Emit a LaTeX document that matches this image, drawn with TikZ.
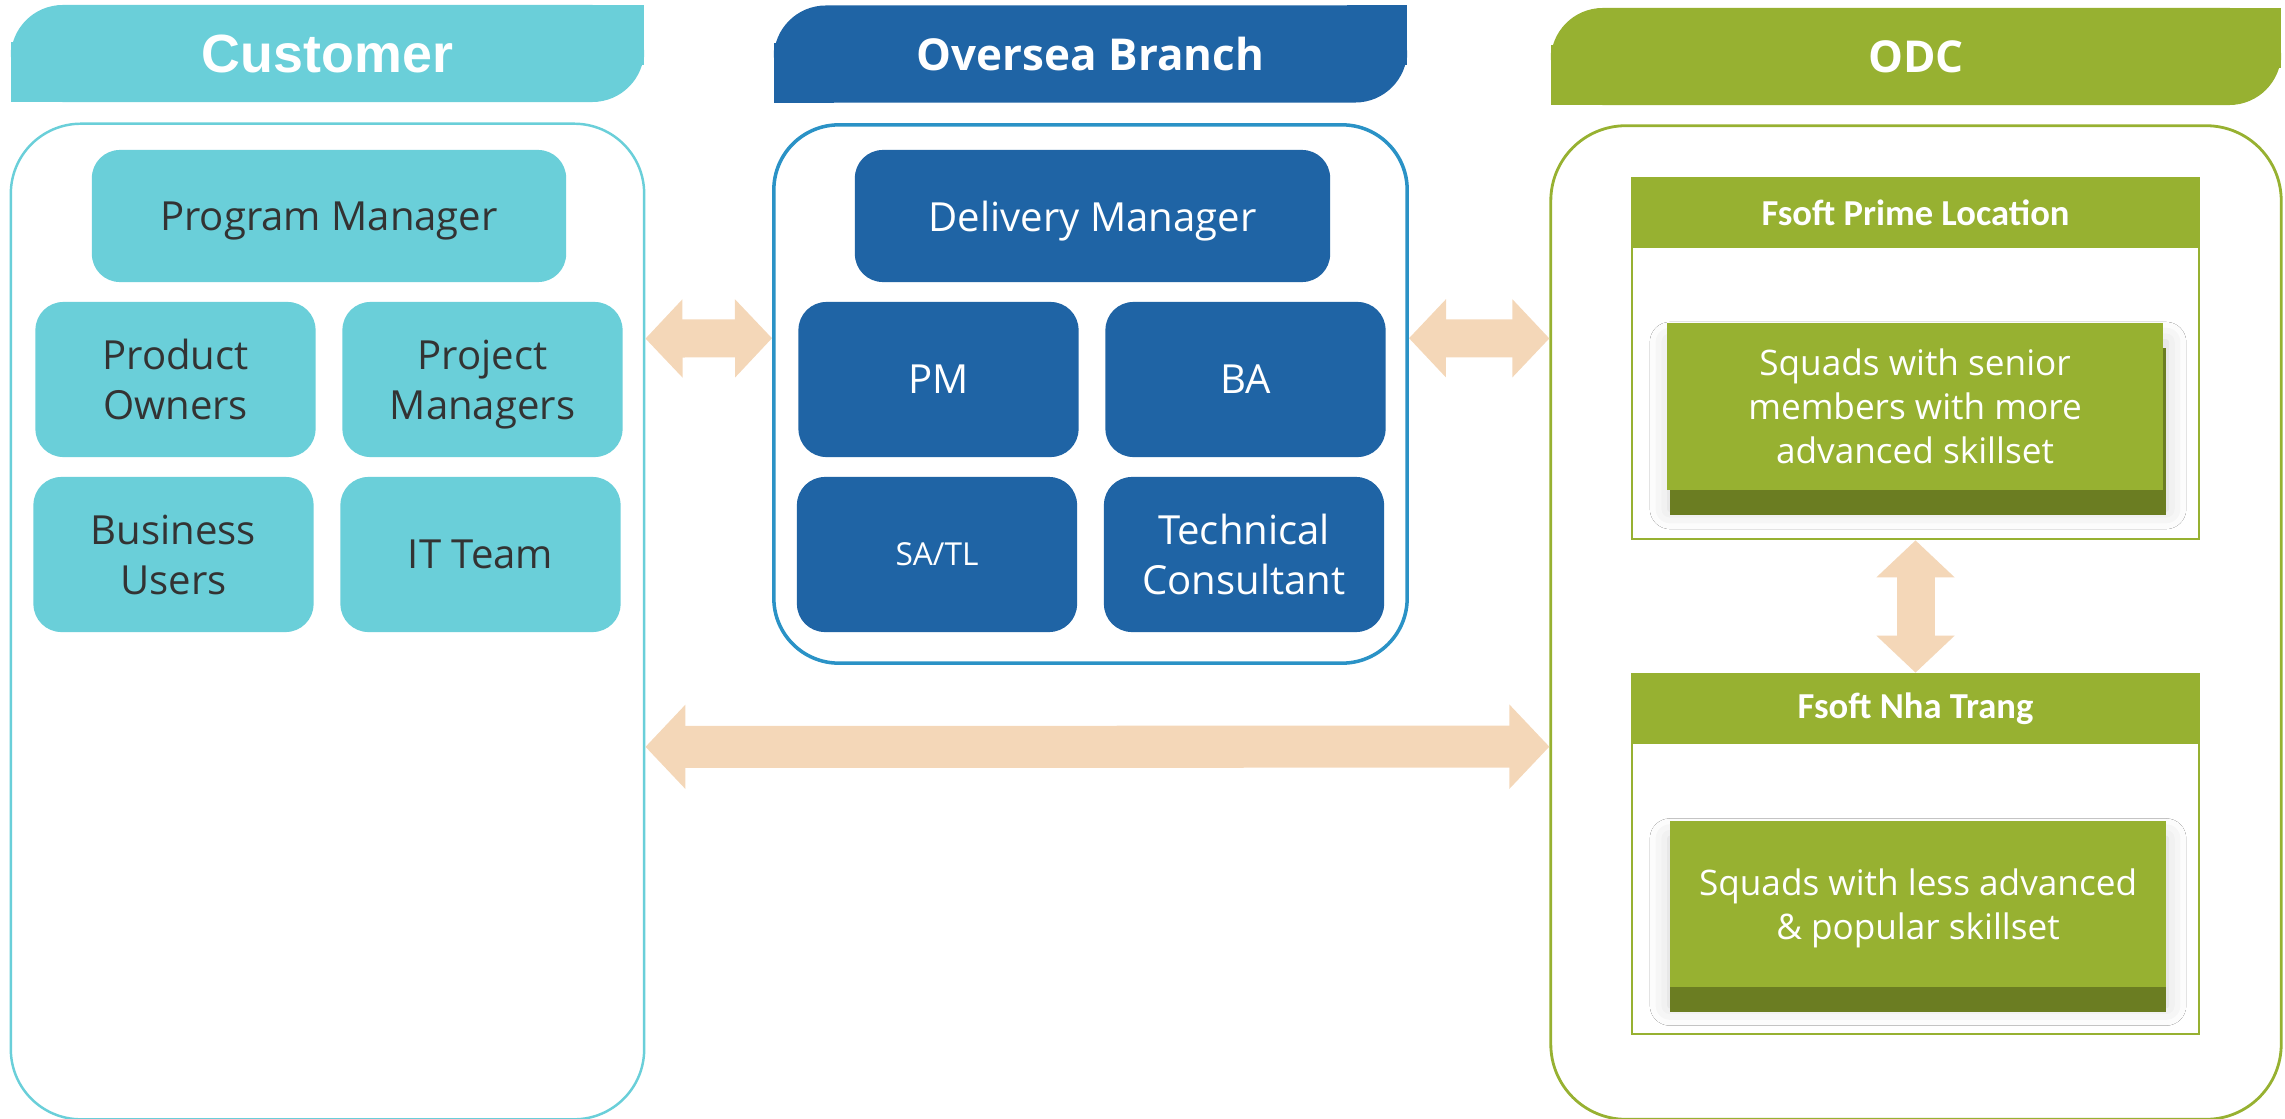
\documentclass[tikz,border=0pt]{standalone}
\usepackage{fontspec}
\setmainfont{Open Sans}
\newfontfamily\headfont{Liberation Sans}
\newfontfamily\bandfont{Carlito}
\usepackage{xcolor}
\usepackage{tikz}
\usetikzlibrary{arrows.meta,shadows.blur}
\definecolor{custc}{HTML}{6ACFD9}
\definecolor{ovc}{HTML}{1F64A5}
\definecolor{ovline}{HTML}{2A92C6}
\definecolor{odcc}{HTML}{97B131}
\definecolor{odcdark}{HTML}{6B7D22}
\definecolor{peach}{HTML}{F4D7B8}
\definecolor{txtc}{HTML}{333333}
\tikzset{
  role/.style={rectangle, rounded corners=0.28cm, inner sep=0pt, align=center, text depth=0pt, minimum width=2.8cm, minimum height=1.55cm, font=\fontsize{11.4}{14.2}\selectfont},
  custrole/.style={role, fill=custc, text=txtc},
  ovrole/.style={role, fill=ovc, text=white},
  head/.style={rectangle, rounded corners=0.52cm, inner sep=0pt, outer sep=0pt, text=white, minimum height=0.97cm},
  frame/.style={rectangle, draw, fill=white, inner sep=0pt, line width=0.7pt},
  band/.style={rectangle, fill=odcc, inner sep=0pt, text=white, minimum width=5.67cm, minimum height=0.7cm, font=\bandfont\bfseries\fontsize{10.4}{12}\selectfont},
  squad/.style={rectangle, fill=odcc, inner sep=0pt, text=white, align=center, text depth=0pt, minimum width=4.96cm, minimum height=1.67cm, font=\fontsize{10}{12.5}\selectfont},
  shade/.style={rectangle, fill=odcdark, inner sep=0pt, minimum width=4.96cm, minimum height=1.67cm, blur shadow={shadow xshift=0pt, shadow yshift=0.06cm, shadow blur radius=0.2cm, shadow opacity=18}},
  link/.style={peach, line width=0.38cm, {Triangle[width=0.76cm,length=0.37cm]}-{Triangle[width=0.76cm,length=0.37cm]}},
  biglink/.style={peach, line width=0.42cm, {Triangle[width=0.82cm,length=0.4cm]}-{Triangle[width=0.82cm,length=0.4cm]}}
}
\begin{document}
\begin{tikzpicture}[x=0.01cm, y=-0.01cm]
        \useasboundingbox (0,0) rectangle (2285,1118);

        \node[head, fill=custc, minimum width=6.33cm, font=\headfont\bfseries\fontsize{15.3}{18}\selectfont] (custhead) at (327.5,53.5) {Customer};
        \fill[custc] (custhead.north east) rectangle ++(-60,60);
        \fill[custc] (custhead.south west) rectangle ++(60,-60);
        \node[head, fill=ovc, minimum width=6.33cm, font=\bfseries\fontsize{12.5}{15}\selectfont] (ovhead) at (1090.5,54) {Oversea Branch};
        \fill[ovc] (ovhead.north east) rectangle ++(-60,60);
        \fill[ovc] (ovhead.south west) rectangle ++(60,-60);
        \node[head, fill=odcc, minimum width=7.3cm, font=\bfseries\fontsize{12.5}{15}\selectfont] (odchead) at (1916,56.5) {ODC};
        \fill[odcc] (odchead.north east) rectangle ++(-60,60);
        \fill[odcc] (odchead.south west) rectangle ++(60,-60);

        \node[frame, draw=custc, rounded corners=0.7cm, minimum width=6.33cm, minimum height=9.95cm] (custbox) at (327.5,621.5) {};
        \node[frame, draw=ovline, line width=1pt, rounded corners=0.65cm, minimum width=6.33cm, minimum height=5.38cm] (ovbox) at (1090.5,394) {};
        \node[frame, draw=odcc, line width=0.8pt, rounded corners=0.75cm, minimum width=7.3cm, minimum height=9.93cm] (odcbox) at (1916,622.5) {};

        \node[custrole, minimum width=4.74cm, minimum height=1.32cm] (progman) at (329,216) {Program Manager};
        \node[custrole] (prodown) at (175.5,379.5) {Product\\Owners};
        \node[custrole] (projman) at (482.5,379.5) {Project\\Managers};
        \node[custrole] (bizuser) at (173.5,554.5) {Business\\Users};
        \node[custrole] (itteam) at (480.5,554.5) {IT Team};

        \node[ovrole, minimum width=4.75cm, minimum height=1.32cm] (delman) at (1092.5,216) {Delivery Manager};
        \node[ovrole] (pm) at (938.5,379.5) {PM};
        \node[ovrole] (ba) at (1245.5,379.5) {BA};
        \node[ovrole, font=\fontsize{9}{11}\selectfont] (satl) at (937,554.5) {SA/TL};
        \node[ovrole] (techcons) at (1244,554.5) {Technical\\Consultant};

        \node[frame, draw=odcc, minimum width=5.67cm, minimum height=3.61cm] (primepanel) at (1915.5,358.5) {};
        \node[band] (primehead) at (1915.5,213) {Fsoft Prime Location};
        \node[shade] (sqashade) at (1918,431.5) {};
        \node[squad] (squada) at (1915,406.5) {Squads with senior\\members with more\\advanced skillset};

        \node[frame, draw=odcc, minimum width=5.67cm, minimum height=3.6cm] (nhapanel) at (1915.5,854) {};
        \node[band] (nhahead) at (1915.5,709) {Fsoft Nha Trang};
        \node[shade] (sqbshade) at (1918,928) {};
        \node[squad, minimum height=1.66cm] (squadb) at (1918,904) {Squads with less advanced\\\& popular skillset};

        \draw[link] ([yshift=-2.16cm]custbox.north east) -- ([yshift=-2.15cm]ovbox.north west);
        \draw[link] ([yshift=-2.15cm]ovbox.north east) -- ([yshift=-2.14cm]odcbox.north west);
        \draw[biglink] ([yshift=-6.24cm]custbox.north east) -- ([yshift=-6.22cm]odcbox.north west);
        \draw[link] (primepanel.south) -- (nhapanel.north);
    \end{tikzpicture}
\end{document}
